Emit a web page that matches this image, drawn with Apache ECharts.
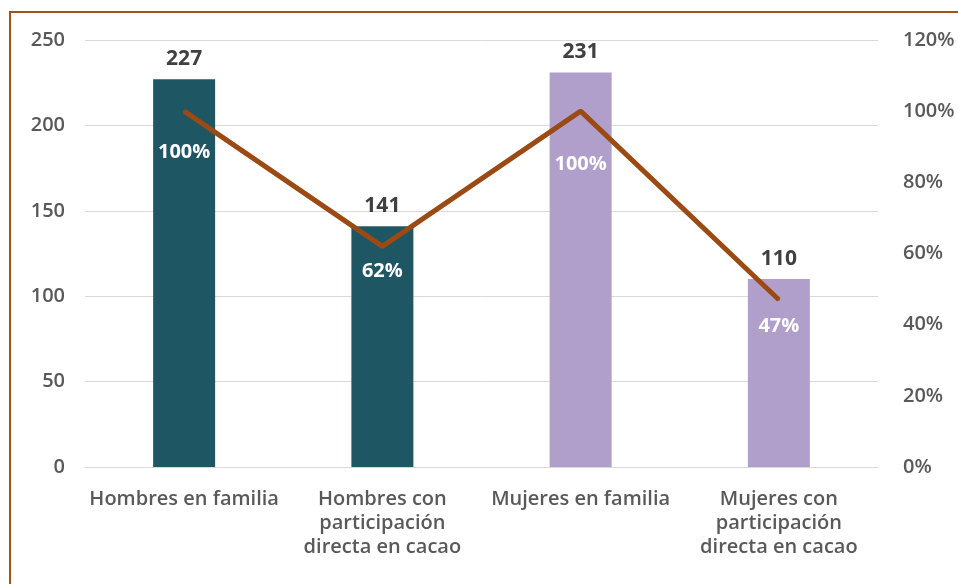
<!DOCTYPE html>
<html>
<head>
<meta charset="utf-8">
<script src="https://cdn.jsdelivr.net/npm/echarts@6/dist/echarts.min.js"></script>
<style>
  html, body { margin: 0; padding: 0; background: #ffffff; }
  .frame {
    position: absolute;
    left: 9px;
    top: 11px;
    width: 949px;
    height: 573px;
    border-top: 2px solid #a0541c;
    border-left: 2px solid #a0541c;
    background: #ffffff;
  }
  #chart {
    position: absolute;
    left: 0;
    top: 0;
    width: 958px;
    height: 584px;
  }
</style>
</head>
<body>
<div class="frame"></div>
<div id="chart"></div>
<script>
var categories = [
  "Hombres en familia",
  "Hombres con\nparticipación\ndirecta en cacao",
  "Mujeres en familia",
  "Mujeres con\nparticipación\ndirecta en cacao"
];
var counts = [227, 141, 231, 110];
var shares = [1.00, 0.62, 1.00, 0.47];
var leftTicks = [0, 50, 100, 150, 200, 250];
var rightTicks = [0, 0.2, 0.4, 0.6, 0.8, 1.0, 1.2];

var barColors = ["#1f5664", "#1f5664", "#b09fcb", "#b09fcb"];
var pctLabelGap = [30, 14, 42, 16];
var fontFam = "'Open Sans', 'Noto Sans', sans-serif";

var chart = echarts.init(document.getElementById("chart"), null, { renderer: "canvas" });

var option = {
  backgroundColor: "transparent",
  animation: false,
  grid: { left: 85, right: 80, top: 40, bottom: 117 },
  xAxis: {
    type: "category",
    data: categories,
    axisLine: { lineStyle: { color: "#d9d9d9", width: 1 } },
    axisTick: { show: false },
    axisLabel: {
      color: "#595959",
      fontSize: 20,
      fontFamily: fontFam,
      fontWeight: 600,
      lineHeight: 24,
      margin: 20,
      interval: 0
    }
  },
  yAxis: [
    {
      type: "value",
      min: leftTicks[0],
      max: leftTicks[leftTicks.length - 1],
      interval: 50,
      axisLine: { show: false },
      axisTick: { show: false },
      splitLine: { lineStyle: { color: "#d9d9d9", width: 1 } },
      axisLabel: {
        color: "#595959",
        fontSize: 20,
        fontFamily: fontFam,
        fontWeight: 600,
        margin: 20
      }
    },
    {
      type: "value",
      min: rightTicks[0],
      max: rightTicks[rightTicks.length - 1],
      interval: 0.2,
      axisLine: { show: false },
      axisTick: { show: false },
      splitLine: { show: false },
      axisLabel: {
        color: "#595959",
        fontSize: 20,
        fontFamily: fontFam,
        fontWeight: 600,
        margin: 25,
        formatter: function (v) { return Math.round(v * 100) + "%"; }
      }
    }
  ],
  series: [
    {
      type: "bar",
      yAxisIndex: 0,
      barWidth: 62,
      data: counts.map(function (v, i) {
        return { value: v, itemStyle: { color: barColors[i] } };
      }),
      label: {
        show: true,
        position: "top",
        distance: 10,
        color: "#404040",
        fontSize: 21,
        fontWeight: "bold",
        fontFamily: fontFam
      }
    },
    {
      type: "line",
      yAxisIndex: 1,
      symbol: "circle",
      showSymbol: true,
      symbolSize: 2,
      itemStyle: { color: "#9a4a12" },
      lineStyle: { color: "#9a4a12", width: 5 },
      data: shares.map(function (v, i) {
        return {
          value: v,
          label: { distance: pctLabelGap[i] }
        };
      }),
      label: {
        show: true,
        position: "bottom",
        color: "#ffffff",
        fontSize: 20,
        fontWeight: "bold",
        fontFamily: fontFam,
        formatter: function (p) { return Math.round(p.value * 100) + "%"; }
      },
      labelLayout: { hideOverlap: false },
      z: 5
    }
  ]
};

chart.setOption(option);
</script>
</body>
</html>
